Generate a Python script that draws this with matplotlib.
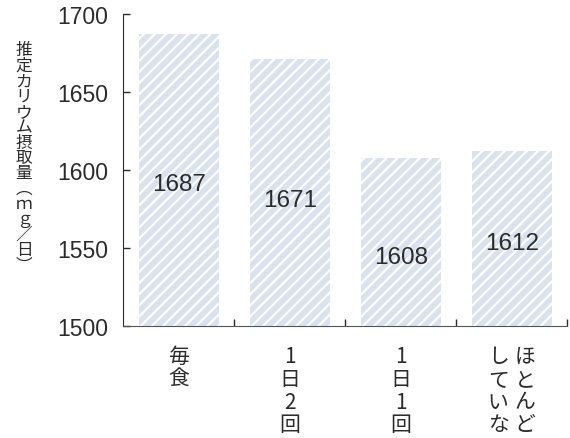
import matplotlib.pyplot as plt
from matplotlib.transforms import blended_transform_factory

plt.rcParams['font.family'] = ['Noto Sans CJK JP', 'DejaVu Sans']
plt.rcParams['hatch.linewidth'] = 1.6

# 食事の頻度別 推定カリウム摂取量
categories = ['毎食', '1日2回', '1日1回', 'ほとんどしていない']
label_columns = [['毎食'], ['1日2回'], ['1日1回'], ['ほとんど', 'していない']]
values = [1687, 1671, 1608, 1612]
value_label_y = [1591, 1581, 1544, 1553]
yticks = [1500, 1550, 1600, 1650, 1700]
ylabel_chars = ['推', '定', 'カ', 'リ', 'ウ', 'ム', '摂', '取', '量',
                '︵', 'ｍ', 'ｇ', '／', '日', '︶']

text_color = '#2b2b2b'
bar_color = '#dae1ef'
num_font = ['Liberation Sans', 'DejaVu Sans']

fig = plt.figure(figsize=(5.7, 4.39), dpi=100)
ax = fig.add_axes([0.216, 0.255, 0.779, 0.711])

x = [i + 0.5 for i in range(len(values))]
ax.bar(x, [v - 1500 for v in values], bottom=1500, width=0.72,
       color=bar_color, edgecolor='white', linewidth=0, hatch='///')

for xi, v, ly in zip(x, values, value_label_y):
    ax.text(xi, ly, str(v), ha='center', va='center', fontsize=17.5,
            color=text_color, family=num_font)

ax.set_xlim(0, 4)
ax.set_ylim(1500, 1700)
ax.set_yticks(yticks)
ax.set_yticklabels([str(t) for t in yticks], fontsize=16.5, color=text_color,
                   family=num_font)
ax.tick_params(axis='y', direction='in', length=5, width=1, pad=11, colors=text_color)
ax.set_xticks([1, 2, 3, 4])
ax.set_xticklabels([])
ax.tick_params(axis='x', direction='in', length=5, width=1, colors=text_color)

for side in ['top', 'right']:
    ax.spines[side].set_visible(False)
ax.spines['left'].set_color(text_color)
ax.spines['bottom'].set_color('#555555')

# 縦書きの項目名
trans = blended_transform_factory(ax.transData, fig.transFigure)
for xi, cols in zip(x, label_columns):
    n = len(cols)
    for j, col in enumerate(cols):
        cx = xi + (n - 1) * 0.12 - j * 0.24
        for k, ch in enumerate(col):
            ax.text(cx, 0.186 - k * 0.0515, ch, transform=trans, ha='center',
                    va='center', fontsize=15, color=text_color, clip_on=False)

# 縦書きの軸ラベル
for k, ch in enumerate(ylabel_chars):
    fig.text(0.042, 0.884 - k * 0.035, ch, ha='center', va='center',
             fontsize=12, color=text_color)

fig.savefig('out.png', dpi=100)
